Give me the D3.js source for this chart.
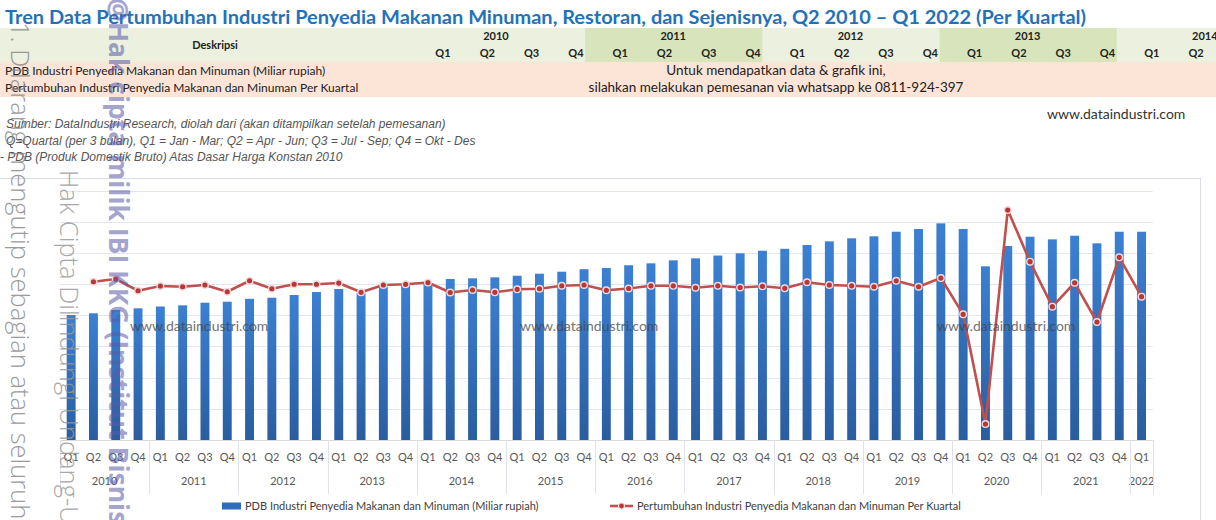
<!DOCTYPE html>
<html><head><meta charset="utf-8">
<script src="https://cdn.jsdelivr.net/npm/d3@7"></script>
<style>body{margin:0;background:#fff;} svg{display:block;}</style>
</head><body><svg id="c" width="1216" height="520"></svg>
<script>
// ---------- DATA ----------
const years = ["2010","2011","2012","2013","2014","2015","2016","2017","2018","2019","2020","2021","2022"];
const quarters = ["Q1","Q2","Q3","Q4"];
// PDB Industri Penyedia Makanan dan Minuman (Miliar rupiah), Q1 2010 .. Q1 2022
const pdbValues = [40080,40620,41680,42220, 42800,43180,44020,44340, 45270,45620,46490,47450,
  48410,47190,49150,49700, 50240,51620,51840,52160, 52670,53320,53960,54760,
  55140,56040,56650,57610, 58250,59150,59860,60690, 61300,62520,63700,64670,
  65310,66780,67650,69470, 67650,55690,62200,65180, 64340,65500,63060,66780, 66780];
// Pertumbuhan per kuartal (%), Q1 2010 has no value
const growthValues = [null,2.20,2.58,0.94, 1.60,1.50,1.74,0.80, 2.34,1.22,1.85,1.85,
  2.02,0.72,1.74,1.84, 2.09,0.69,1.04,0.72, 1.14,1.22,1.64,1.74,
  1.00,1.25,1.63,1.63, 1.36,1.63,1.39,1.56, 1.28,2.13,1.74,1.63,
  1.50,2.33,1.50,2.72, -2.37,-17.76,12.26,5.01, -1.30,2.06,-3.45,5.62, 0.10];
const pdbTicks = [10000,20000,30000,40000,50000,60000,70000,80000];
const headerYears = ["2010","2011","2012","2013","2014"];
const seriesNames = ["PDB Industri Penyedia Makanan dan Minuman (Miliar rupiah)",
                     "Pertumbuhan Industri Penyedia Makanan dan Minuman Per Kuartal"];
const titleText = "Tren Data Pertumbuhan Industri Penyedia Makanan Minuman, Restoran, dan Sejenisnya, Q2 2010 \u2013 Q1 2022 (Per Kuartal)";
const notes = ["Sumber: DataIndustri Research, diolah dari (akan ditampilkan setelah pemesanan)",
  "Q=Quartal (per 3 bulan), Q1 = Jan - Mar; Q2 = Apr - Jun; Q3 = Jul - Sep; Q4 = Okt - Des",
  "- PDB (Produk Domestik Bruto) Atas Dasar Harga Konstan 2010"];
const orderText = ["Untuk mendapatkan data & grafik ini,", "silahkan melakukan pemesanan via whatsapp ke 0811-924-397"];
const siteText = "www.dataindustri.com";
const copyTexts = ["1. Dilarang mengutip sebagian atau seluruh karya tulis ini tanpa mencantumkan sumber",
  "Hak Cipta Dilindungi Undang-Undang",
  "@Hak cipta milik IBI KKG (Institut Bisnis dan Informatika Kwik Kian Gie)"];

const categories = [];
years.forEach(y => quarters.forEach(q => { if (categories.length < pdbValues.length) categories.push({year:y, q:q, key:y+"-"+q}); }));

// ---------- DRAW ----------
const svg = d3.select("#c");
const F = "Lato, 'Open Sans', sans-serif";
svg.append("rect").attr("width",1216).attr("height",520).attr("fill","#fff");

// title
svg.append("text").attr("x",5).attr("y",24).attr("font-family",F).attr("font-weight",700)
  .attr("font-size",19).attr("fill","#2372b9").attr("textLength",1081).attr("lengthAdjust","spacingAndGlyphs").text(titleText);

// header table
svg.append("rect").attr("x",0).attr("y",28).attr("width",1216).attr("height",34).attr("fill","#ebf1de");
const hx = d3.scaleLinear().domain([0,1]).range([443,487.3]);
headerYears.forEach((y,i) => {
  if (i % 2 === 1) svg.append("rect").attr("x",hx(i*4)-35).attr("y",28).attr("width",hx(4)-hx(0)).attr("height",34).attr("fill","#d8e4bc");
});
svg.append("text").attr("x",215).attr("y",49).attr("text-anchor","middle").attr("font-family",F)
  .attr("font-weight",700).attr("font-size",11).attr("fill","#222").text("Deskripsi");
headerYears.forEach((y,i) => {
  svg.append("text").attr("x",hx(i*4)+53).attr("y",40).attr("text-anchor","middle").attr("font-family",F)
    .attr("font-weight",700).attr("font-size",11).attr("fill","#222").text(y);
  quarters.forEach((q,j) => {
    svg.append("text").attr("x",hx(i*4+j)).attr("y",57).attr("text-anchor","middle").attr("font-family",F)
      .attr("font-weight",700).attr("font-size",11).attr("fill","#222").text(q);
  });
});
svg.append("rect").attr("x",0).attr("y",62).attr("width",1216).attr("height",35).attr("fill","#fce4d6");
seriesNames.forEach((s,i) => svg.append("text").attr("x",5).attr("y",75+i*17).attr("font-family",F)
  .attr("font-size",12).attr("fill","#222").text(s));
orderText.forEach((s,i) => svg.append("text").attr("x",776).attr("y",75+i*17).attr("text-anchor","middle")
  .attr("font-family",F).attr("font-size",13.5).attr("fill","#222").text(s));

// notes
notes.forEach((s,i) => svg.append("text").attr("x",i===2?0:6).attr("y",128+i*16.5).attr("font-family","'Liberation Sans', Arial, sans-serif")
  .attr("font-style","italic").attr("font-size",12).attr("fill","#555").text(s));
svg.append("text").attr("x",1047).attr("y",119).attr("font-family",F).attr("font-size",14).attr("fill","#333").text(siteText);

// chart frame
svg.append("line").attr("x1",0).attr("x2",1200).attr("y1",178.5).attr("y2",178.5).attr("stroke","#d9dde8");
svg.append("line").attr("x1",1200.5).attr("x2",1200.5).attr("y1",178).attr("y2",520).attr("stroke","#d9dde8");

// scales
const x = d3.scaleBand().domain(categories.map(d=>d.key)).range([60,1152.7]).paddingInner(0.6).paddingOuter(0.3);
const y = d3.scaleLinear().domain([0,80000]).range([440,190.5]);
const y2 = d3.scaleLinear().domain([-20,15]).range([440,190.5]);
const step = x.step();
const cellLeft = k => x(k) - step*x.paddingInner()/2;

// gridlines
svg.append("g").selectAll("line").data(pdbTicks).join("line")
  .attr("x1",60).attr("x2",1152.7).attr("y1",d=>Math.round(y(d))+0.5).attr("y2",d=>Math.round(y(d))+0.5)
  .attr("stroke","#e3e6ee").attr("stroke-width",1);

// bars
const defs = svg.append("defs");
const grad = defs.append("linearGradient").attr("id","bg").attr("x1",0).attr("x2",0).attr("y1",0).attr("y2",1);
grad.append("stop").attr("offset","0%").attr("stop-color","#3b80d3");
grad.append("stop").attr("offset","100%").attr("stop-color","#2a5d9f");
svg.append("g").selectAll("rect").data(categories).join("rect")
  .attr("x",d=>x(d.key)).attr("width",x.bandwidth())
  .attr("y",(d,i)=>y(pdbValues[i])).attr("height",(d,i)=>y(0)-y(pdbValues[i]))
  .attr("fill","url(#bg)");

// axis line
svg.append("line").attr("x1",60).attr("x2",1152.7).attr("y1",440.5).attr("y2",440.5).attr("stroke","#d9d9d9");

// category axis (quarters + years)
svg.append("g").selectAll("text").data(categories).join("text")
  .attr("x",d=>x(d.key)+x.bandwidth()/2).attr("y",461).attr("text-anchor","middle")
  .attr("font-family",F).attr("font-size",11).attr("fill","#595959").text(d=>d.q);
const groups = years.map(yr => categories.filter(c=>c.year===yr));
svg.append("g").selectAll("text").data(groups).join("text")
  .attr("x",g=>(cellLeft(g[0].key)+cellLeft(g[g.length-1].key)+step)/2).attr("y",485).attr("text-anchor","middle")
  .attr("font-family",F).attr("font-size",11).attr("fill","#595959").text(g=>g[0].year);
const seps = groups.map(g=>cellLeft(g[0].key)).concat([cellLeft(categories[categories.length-1].key)+step]);
svg.append("g").selectAll("line").data(seps).join("line")
  .attr("x1",d=>Math.round(d)+0.5).attr("x2",d=>Math.round(d)+0.5).attr("y1",440).attr("y2",494)
  .attr("stroke","#dfe3ec");

// growth line
const pts = categories.map((d,i)=>({key:d.key, v:growthValues[i]})).filter(p=>p.v!==null);
const line = d3.line().x(p=>x(p.key)+x.bandwidth()/2).y(p=>y2(p.v));
svg.append("path").datum(pts).attr("d",line).attr("fill","none").attr("stroke","#c0504d").attr("stroke-width",2.6)
  .attr("stroke-linejoin","round");
svg.append("g").selectAll("circle").data(pts).join("circle")
  .attr("cx",p=>x(p.key)+x.bandwidth()/2).attr("cy",p=>y2(p.v)).attr("r",3.3)
  .attr("fill","#b8383a").attr("stroke","#f3dada").attr("stroke-width",1.4);

// in-chart watermarks
[130,520,937].forEach(px => svg.append("text").attr("x",px).attr("y",331).attr("font-family",F)
  .attr("font-size",14).attr("fill","#444").attr("opacity",0.75).text(siteText));

// legend
svg.append("rect").attr("x",222).attr("y",502.5).attr("width",19).attr("height",7).attr("fill","#2f6cb9");
svg.append("text").attr("x",245).attr("y",510).attr("font-family",F).attr("font-size",11).attr("fill","#404040").text(seriesNames[0]);
svg.append("line").attr("x1",610).attr("x2",633).attr("y1",506).attr("y2",506).attr("stroke","#c0504d").attr("stroke-width",2.6);
svg.append("circle").attr("cx",621.5).attr("cy",506).attr("r",3).attr("fill","#b8383a").attr("stroke","#f3dada").attr("stroke-width",1.2);
svg.append("text").attr("x",637).attr("y",510).attr("font-family",F).attr("font-size",11).attr("fill","#404040").text(seriesNames[1]);

// overlay copyright watermarks (vertical)
const cw = [
  {x:11, y:22, size:25.5, weight:300, fill:"#8a8a8a", op:0.85, t:copyTexts[0]},
  {x:60, y:170, size:25.5, weight:300, fill:"#999", op:0.85, t:copyTexts[1]},
  {x:109, y:-2, size:26.5, weight:700, fill:"#5a5aa8", op:0.55, t:copyTexts[2]}
];
cw.forEach(c => svg.append("text").attr("transform",`translate(${c.x},${c.y}) rotate(90)`)
  .attr("font-family","'Open Sans', sans-serif").attr("font-weight",c.weight).attr("font-size",c.size)
  .attr("fill",c.fill).attr("opacity",c.op).text(c.t));
</script></body></html>
